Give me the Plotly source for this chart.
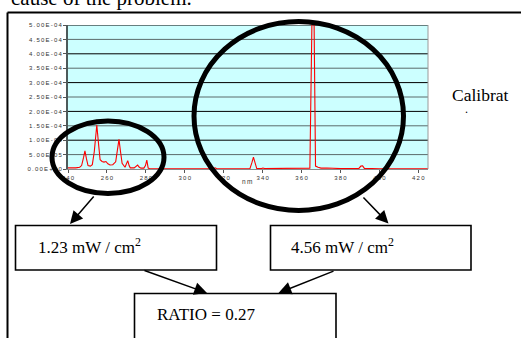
import plotly.graph_objects as go

# ---------------- data ----------------
wavelength_nm = [240, 242, 244, 246, 247, 248, 248.7, 249.5, 250.3, 251.5, 252.5, 253.5,
                 254.8, 255.8, 256.5, 257.5, 258.5, 259.5, 260.5, 261.6, 263, 264.5,
                 265.5, 266.2, 267, 267.8, 269.3, 270, 270.7, 271.4, 272, 274, 275,
                 275.8, 276.5, 277.5, 279, 279.8, 280.5, 281.2, 282, 290, 300, 310,
                 315, 315.6, 316.3, 325, 333.5, 334.5, 335.3, 336.1, 337, 339.5,
                 340.2, 341, 350, 354, 356, 358, 362, 364.3, 366, 367.2, 368.5, 370,
                 373, 376, 378, 380, 385, 389.5, 390.5, 391.4, 392.3, 395, 400, 410, 425]
intensity = [4e-6, 3e-6, 4e-6, 6e-6, 1.2e-5, 4e-5, 6.3e-5, 3.5e-5, 1.2e-5, 1.0e-5, 1.5e-5, 6e-5,
             1.53e-4, 8e-5, 3.2e-5, 2.6e-5, 2.4e-5, 2.6e-5, 1.8e-5, 1.4e-5, 1.5e-5, 2.5e-5,
             7e-5, 1.03e-4, 6e-5, 2e-5, 6e-6, 1.5e-5, 2.9e-5, 1.2e-5, 4e-6, 4e-6, 9e-6,
             1.4e-5, 7e-6, 3e-6, 3e-6, 1.2e-5, 3.1e-5, 3e-6, 1e-6, 1e-6, 1e-6, 1e-6,
             1.5e-6, 4e-6, 1.5e-6, 1e-6, 1.5e-6, 2.2e-5, 4.1e-5, 2.2e-5, 1.5e-6, 1.5e-6,
             3.5e-6, 1.5e-6, 1.5e-6, 3e-6, 2e-6, 3e-6, 2e-6, 3e-6, 8.2e-4, 1e-5, 6e-6, 3e-6,
             3.5e-6, 2e-6, 3e-6, 1.5e-6, 1.5e-6, 2e-6, 1e-5, 1.1e-5, 2e-6, 1e-6, 1e-6, 1e-6, 1e-6]

x_tick_vals = [240, 260, 280, 300, 320, 340, 360, 380, 400, 420]
x_tick_labels = ["240", "260", "280", "300", "320", "340", "360", "380", "400", "420"]
y_tick_vals = [0, 5e-5, 1e-4, 1.5e-4, 2e-4, 2.5e-4, 3e-4, 3.5e-4, 4e-4, 4.5e-4, 5e-4]
y_tick_labels = ["0.00E+00", "5.00E-05", "1.00E-04", "1.50E-04", "2.00E-04", "2.50E-04",
                 "3.00E-04", "3.50E-04", "4.00E-04", "4.50E-04", "5.00E-04"]
x_title = "nm"
short_band_text = "1.23 mW / cm<sup>2</sup>"
long_band_text = "4.56 mW / cm<sup>2</sup>"
ratio_text = "RATIO = 0.27"
side_text = "Calibrat"
top_text = "cause of the problem."

# ---------------- layout helpers ----------------
W, H = 521, 338
L, R, T, B = 68, 428, 25, 169   # plot area in pixels


def px(x):
    return (x - L) / (R - L)


def py(y):
    return (B - y) / (B - T)


def spaced(s):
    return "\u2009".join(s)


SERIF = "Liberation Serif, Times New Roman, serif"
SANS = "Liberation Sans, Arial, sans-serif"

fig = go.Figure()
fig.add_trace(go.Scatter(x=wavelength_nm, y=intensity, mode="lines",
                         line=dict(color="#ff0000", width=1.1), hoverinfo="skip"))

shapes = []
# alternating grid lines
for i, v in enumerate(y_tick_vals[1:], start=1):
    shapes.append(dict(type="line", xref="paper", yref="y", x0=0, x1=1, y0=v, y1=v,
                       line=dict(color="#000000" if i % 2 == 0 else "#5b6b6b", width=1),
                       layer="below"))

# outer document frame
shapes.append(dict(type="line", xref="paper", yref="paper", x0=px(7.5), x1=px(530),
                   y0=py(12.5), y1=py(12.5), line=dict(color="black", width=2)))
shapes.append(dict(type="line", xref="paper", yref="paper", x0=px(7.5), x1=px(7.5),
                   y0=py(12.5), y1=py(345), line=dict(color="black", width=2)))

# ellipses
shapes.append(dict(type="circle", xref="paper", yref="paper", x0=px(52), x1=px(164),
                   y0=py(121), y1=py(193.5), line=dict(color="black", width=5)))
shapes.append(dict(type="circle", xref="paper", yref="paper", x0=px(194), x1=px(403.5),
                   y0=py(21.5), y1=py(210.5), line=dict(color="black", width=5)))

# boxes
for (x0, x1, y0, y1) in [(15.5, 216.5, 225.5, 270), (270.5, 471, 225.5, 270), (134.5, 336, 293.5, 360)]:
    shapes.append(dict(type="rect", xref="paper", yref="paper", x0=px(x0), x1=px(x1),
                       y0=py(y0), y1=py(y1), fillcolor="white",
                       line=dict(color="black", width=1.6)))

# right border of the plot area
shapes.append(dict(type="line", xref="paper", yref="paper", x0=1, x1=1, y0=0, y1=1,
                   line=dict(color="#9a9a9a", width=1)))

annotations = []
# arrows: (tip_x, tip_y, tail_x, tail_y)
for (tx, ty, sx, sy) in [(70, 224, 95, 195), (388.5, 223.5, 362, 196),
                         (207, 293, 143, 270), (278.5, 293, 335, 270.5)]:
    annotations.append(dict(xref="paper", yref="paper", x=px(tx), y=py(ty), text="",
                            showarrow=True, ax=sx - tx, ay=sy - ty, arrowhead=2,
                            arrowsize=1.7, arrowwidth=1.5, arrowcolor="black", standoff=0))

annotations += [
    dict(xref="paper", yref="paper", x=px(36), y=py(246), text=short_band_text,
         showarrow=False, xanchor="left", yanchor="middle",
         font=dict(family=SERIF, size=17, color="black")),
    dict(xref="paper", yref="paper", x=px(289), y=py(246), text=long_band_text,
         showarrow=False, xanchor="left", yanchor="middle",
         font=dict(family=SERIF, size=17, color="black")),
    dict(xref="paper", yref="paper", x=px(155), y=py(314), text=ratio_text,
         showarrow=False, xanchor="left", yanchor="middle",
         font=dict(family=SERIF, size=17, color="black")),
    dict(xref="paper", yref="paper", x=px(450), y=py(95), text=side_text,
         showarrow=False, xanchor="left", yanchor="middle",
         font=dict(family=SERIF, size=17.5, color="black")),
    dict(xref="paper", yref="paper", x=px(466), y=py(109), text=".",
         showarrow=False, xanchor="center", yanchor="middle",
         font=dict(family=SERIF, size=12, color="black")),
    dict(xref="paper", yref="paper", x=px(194), y=py(-2), text=top_text,
         showarrow=False, xanchor="right", yanchor="middle",
         font=dict(family=SERIF, size=21, color="black")),
    dict(xref="paper", yref="paper", x=px(247), y=py(181), text=spaced(x_title),
         showarrow=False, xanchor="center", yanchor="middle",
         font=dict(family=SANS, size=6.5, color="#333")),
]

fig.update_layout(
    template="none",
    width=W, height=H,
    margin=dict(l=L, r=W - R, t=T, b=H - B, pad=0, autoexpand=False),
    paper_bgcolor="white", plot_bgcolor="#ccffff",
    showlegend=False,
    shapes=shapes, annotations=annotations,
    xaxis=dict(range=[240, 425], tickvals=x_tick_vals,
               ticktext=[spaced(t) for t in x_tick_labels], automargin=False,
               showgrid=False, zeroline=False, showline=True, linecolor="#8a8a8a",
               linewidth=1, ticks="outside", ticklen=3, tickcolor="#555",
               tickfont=dict(family=SANS, size=6, color="#333"), mirror=False),
    yaxis=dict(range=[0, 5e-4], tickvals=y_tick_vals,
               ticktext=[spaced(t) for t in y_tick_labels], automargin=False,
               showgrid=False, zeroline=False, showline=True, linecolor="#4d5a5a",
               linewidth=2, ticks="outside", ticklen=3, tickcolor="#555",
               tickfont=dict(family=SANS, size=6, color="#333")),
)

fig.write_html("out.html", config={"displayModeBar": False},
               post_script="document.body.style.margin='0';")
